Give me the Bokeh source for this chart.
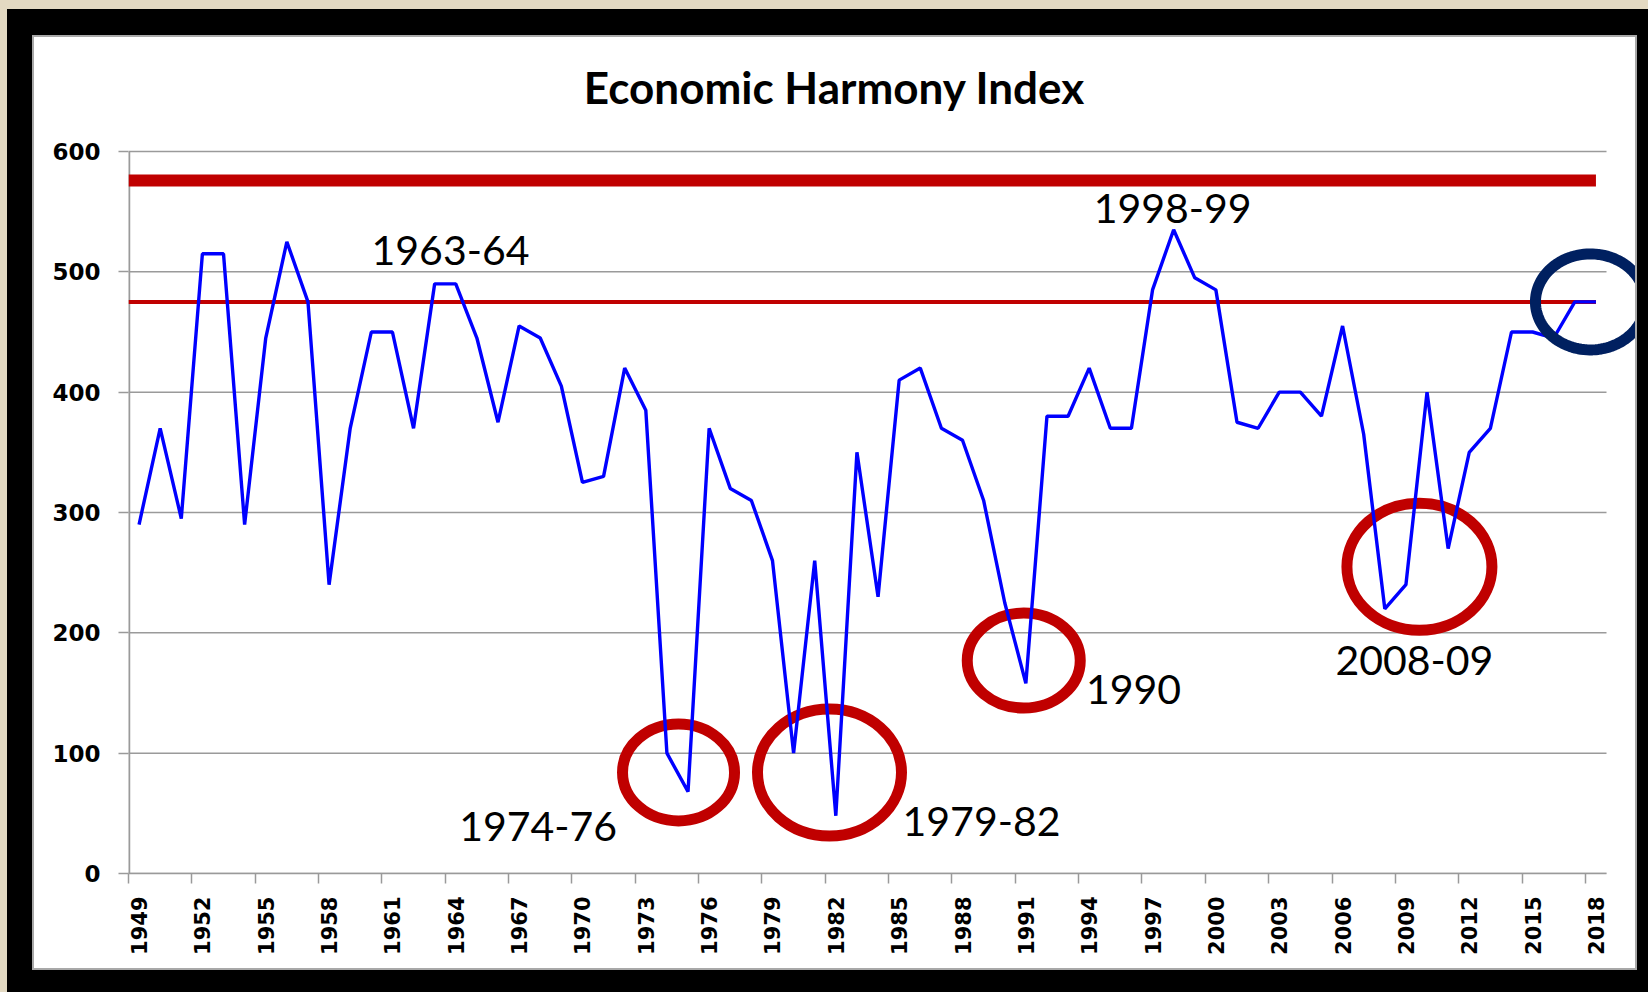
import numpy as np
from bokeh.plotting import figure
from bokeh.models import Range1d, FixedTicker, LinearAxis, CustomJSTickFormatter, PolyAnnotation
from bokeh.layouts import column
from bokeh.core.properties import value
from bokeh.embed import file_html
from bokeh.resources import INLINE

# ---------------- data ----------------
years = list(range(1949, 2019))
index_values = [
    290, 370, 295, 515, 515, 290, 445, 525, 475, 240,   # 1949-1958
    370, 450, 450, 370, 490, 490, 445, 375, 455, 445,   # 1959-1968
    405, 325, 330, 420, 385, 100, 68, 370, 320, 310,    # 1969-1978
    260, 100, 260, 48, 350, 230, 410, 420, 370, 360,    # 1979-1988
    310, 225, 158, 380, 380, 420, 370, 370, 485, 535,   # 1989-1998
    495, 485, 375, 370, 400, 400, 380, 455, 365, 220,   # 1999-2008
    240, 400, 270, 350, 370, 450, 450, 445, 475, 475,   # 2009-2018
]
label_years = years[::3]
y_ticks = [0, 100, 200, 300, 400, 500, 600]
upper_level = 576
harmony_level = 475

chart_title = "Economic Harmony Index"
title_x, title_y = 1981.94, 654

episode_labels = ["1963-64", "1998-99", "1974-76", "1979-82", "1990", "2008-09"]
episode_label_x = [1963.75, 1997.95, 1967.9, 1988.9, 1996.1, 2009.4]
episode_label_y = [518, 553, 39, 43, 153, 177]

circle_x = [1974.55, 1981.7, 1990.9, 2009.64]
circle_y = [84, 84, 177, 255]
circle_w = [112, 144, 113, 145]
circle_h = [97, 127, 95, 127]

current_x = 2017.74
current_y = 475

# ---------------- styles / geometry ----------------
GRID = "#9a9a9a"
RED = "#c00000"
NAVY = "#002060"
BLUE = "#0000ff"
BEIGE = "#e3d9c2"

FIG_W, FIG_H = 1601, 931
LEFT_PAD, BOTTOM_PAD, TOP_SPACE = 94, 95, 114
PX_PER_YEAR = 1478 / 70
PX_PER_UNIT = 722 / 600
x_start = years[0] - 0.5
x_end = x_start + (FIG_W - LEFT_PAD) / PX_PER_YEAR
y_start = y_ticks[0]
y_end = y_ticks[-1] + TOP_SPACE / PX_PER_UNIT

p = figure(width=FIG_W, height=FIG_H, output_backend="svg", toolbar_location=None,
           x_range=Range1d(x_start, x_end), y_range=Range1d(y_start, y_end),
           x_axis_type=None, title=None,
           min_border_left=LEFT_PAD, min_border_right=0, min_border_top=0,
           min_border_bottom=BOTTOM_PAD,
           styles={"outline": "2px solid #a8a8a8", "background-color": "white"})
p.background_fill_color = "white"
p.border_fill_color = "white"
p.outline_line_color = None

# y axis (line drawn separately so it stops at 600)
p.yaxis.ticker = FixedTicker(ticks=y_ticks)
p.yaxis.bounds = (y_ticks[0], y_ticks[-1])
p.yaxis.major_tick_out = 10
p.yaxis.major_tick_in = 0
p.yaxis.minor_tick_line_color = None
p.yaxis.axis_line_color = None
p.yaxis.major_tick_line_color = GRID
p.yaxis.major_tick_line_width = 1.5
p.yaxis.major_label_text_font = "DejaVu Sans"
p.yaxis.major_label_text_font_style = "bold"
p.yaxis.major_label_text_font_size = "23px"
p.yaxis.major_label_text_color = "black"
p.yaxis.major_label_standoff = 18
p.ygrid.visible = False

# horizontal grid lines spanning only the category area
grid_x0 = years[0] - 0.5
grid_x1 = years[-1] + 0.5
p.segment(x0=[grid_x0] * len(y_ticks), x1=[grid_x1] * len(y_ticks),
          y0=y_ticks, y1=y_ticks, line_color=GRID, line_width=1.5)
# vertical axis line
p.segment(x0=[grid_x0], x1=[grid_x0], y0=[y_ticks[0]], y1=[y_ticks[-1]],
          line_color=GRID, line_width=3.5)

# x axes: tick marks at category boundaries, labels at category centres
tick_axis = LinearAxis(ticker=FixedTicker(ticks=[y - 0.5 for y in label_years]),
                       formatter=CustomJSTickFormatter(code="return ''"),
                       bounds=(grid_x0, grid_x1),
                       major_tick_out=10, major_tick_in=0,
                       axis_line_color=GRID, axis_line_width=1.5,
                       major_tick_line_color=GRID, major_tick_line_width=1.5,
                       minor_tick_line_color=None,
                       major_label_text_font_size="0px", major_label_standoff=0)
label_axis = LinearAxis(ticker=FixedTicker(ticks=label_years),
                        formatter=CustomJSTickFormatter(code="return tick.toFixed(0)"),
                        axis_line_color=None, major_tick_line_color=None,
                        minor_tick_line_color=None, major_tick_out=0, major_tick_in=0,
                        major_label_orientation=np.pi / 2,
                        major_label_text_font="DejaVu Sans",
                        major_label_text_font_style="bold",
                        major_label_text_font_size="21px",
                        major_label_text_color="black",
                        major_label_standoff=13)
p.add_layout(tick_axis, "below")
p.add_layout(label_axis, "below")

# title
p.text(x=[title_x], y=[title_y], text=[chart_title],
       text_font=value("Lato"), text_font_style="bold", text_font_size="44px",
       text_color="black", text_align="center", text_baseline="middle")

# reference levels
line_x = [years[0] - 0.5, years[-1]]
p.line(x=line_x, y=[upper_level, upper_level], line_color=RED, line_width=12)
p.line(x=line_x, y=[harmony_level, harmony_level], line_color=RED, line_width=4)

# highlight circles
p.ellipse(x=circle_x, y=circle_y, width=circle_w, height=circle_h,
          width_units="screen", height_units="screen",
          fill_color=None, line_color=RED, line_width=11)

# index line
p.line(x=years, y=index_values, line_color=BLUE, line_width=3.4)

# labels
p.text(x=episode_label_x, y=episode_label_y, text=episode_labels,
       text_font=value("Lato"), text_font_size="41px", text_color="black",
       text_align="center", text_baseline="middle")

# current-position ellipse
t = np.linspace(0, 2 * np.pi, 120)
rx = 55 / PX_PER_YEAR
ry = 48 / PX_PER_UNIT
p.add_layout(PolyAnnotation(xs=list(current_x + rx * np.cos(t)),
                            ys=list(current_y + ry * np.sin(t)),
                            fill_color=None, fill_alpha=0,
                            line_color=NAVY, line_alpha=1.0, line_width=11))

frame_box = column(p, styles={"background-color": "#000000",
                              "padding": "28px 13px 24px 27px"})
layout = column(frame_box, styles={"background-color": BEIGE,
                                   "padding": "9px 0px 0px 7px"})

open("out.html", "w").write(file_html(layout, INLINE))
